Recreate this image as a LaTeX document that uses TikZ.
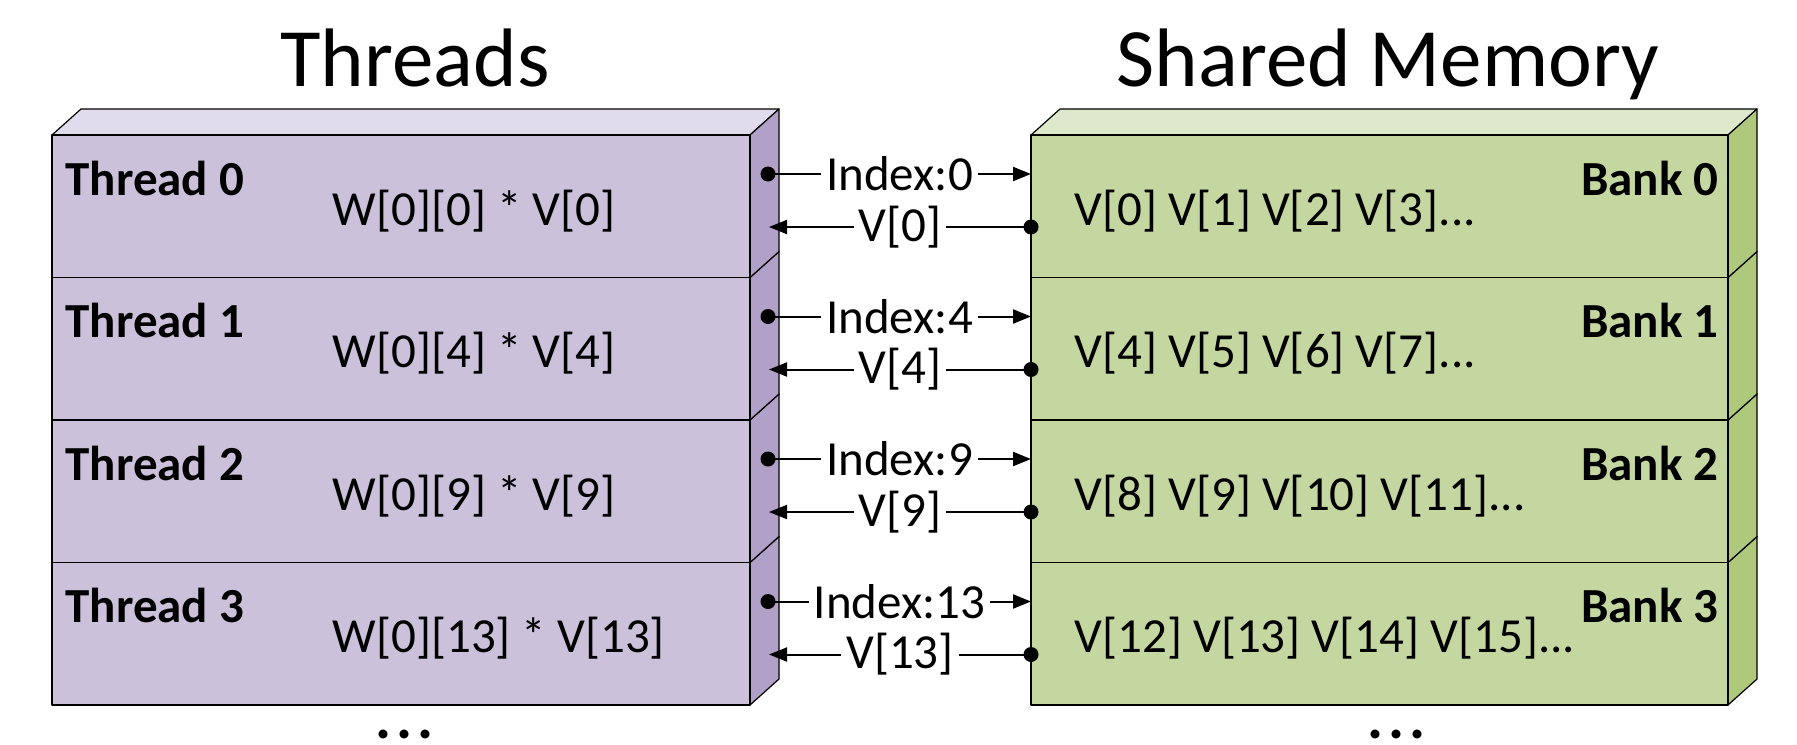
\documentclass[tikz,border=0pt]{standalone}
\usepackage{fontspec}
\setmainfont{Carlito}
\usepackage{xcolor}
\usetikzlibrary{arrows.meta,calc}

\definecolor{thrfront}{HTML}{CCC1DA}
\definecolor{thrtop}{HTML}{E1DCEC}
\definecolor{thrside}{HTML}{B1A0C7}
\definecolor{memfront}{HTML}{C4D7A0}
\definecolor{memtop}{HTML}{DEE8CB}
\definecolor{memside}{HTML}{AEC87C}

\begin{document}
\begin{tikzpicture}[x=0.5pt,y=-0.5pt,>=Latex,line width=0.6pt]
\tikzstyle{face}=[draw=black,line join=round]
\tikzstyle{title}=[font=\fontsize{41.5}{50}\selectfont,inner sep=0pt]
\tikzstyle{lbl}=[font=\fontsize{24.5}{29}\selectfont\bfseries,inner sep=0pt]
\tikzstyle{txt}=[font=\fontsize{24.5}{29}\selectfont,inner sep=0pt]
\tikzstyle{tag}=[font=\fontsize{24.5}{29}\selectfont,fill=white,inner xsep=2.5pt,inner ysep=0pt]
\tikzstyle{wire}=[line width=1pt,-{Triangle[length=9pt,width=7pt]}]
\tikzstyle{more}=[font=\fontsize{30}{36}\selectfont\bfseries,inner sep=0pt]

\useasboundingbox (0,0) rectangle (1797,744);

\node[title,anchor=base] (thrtitle) at (415,86) {Threads};
\node[title,anchor=base] (memtitle) at (1388,86) {Shared Memory};

% one slab per row, bottom row first so the upper slabs overlap it
\foreach \i/\work/\idx/\cells in {
  3/{W[0][13] * V[13]}/13/{V[12] V[13] V[14] V[15]...},
  2/{W[0][9] * V[9]}/9/{V[8] V[9] V[10] V[11]...},
  1/{W[0][4] * V[4]}/4/{V[4] V[5] V[6] V[7]...},
  0/{W[0][0] * V[0]}/0/{V[0] V[1] V[2] V[3]...}} {
  \pgfmathsetmacro\ya{135+142.5*\i}
  \pgfmathsetmacro\yb{\ya+142.5}
  % thread slab
  \filldraw[face,fill=thrtop] (52,\ya) -- (81,\ya-26) -- (779,\ya-26) -- (750,\ya) -- cycle;
  \filldraw[face,fill=thrside] (750,\ya) -- (779,\ya-26) -- (779,\yb-26) -- (750,\yb) -- cycle;
  \filldraw[face,fill=thrfront] (52,\ya) rectangle (750,\yb);
  \node[lbl,anchor=base west] (thr\i) at (65,\ya+60) {Thread \i};
  \node[txt,anchor=base west] (work\i) at (332,\ya+90) {\work};
  % memory bank slab
  \filldraw[face,fill=memtop] (1031,\ya) -- (1060,\ya-26) -- (1757,\ya-26) -- (1728,\ya) -- cycle;
  \filldraw[face,fill=memside] (1728,\ya) -- (1757,\ya-26) -- (1757,\yb-26) -- (1728,\yb) -- cycle;
  \filldraw[face,fill=memfront] (1031,\ya) rectangle (1728,\yb);
  \node[lbl,anchor=base east] (bank\i) at (1719,\ya+60) {Bank \i};
  \node[txt,anchor=base west] (cell\i) at (1074,\ya+90) {\cells};
  % request and reply
  \coordinate (tout\i) at (768,\ya+39);
  \coordinate (min\i) at (1031,\ya+39);
  \coordinate (mout\i) at (1031,\ya+92);
  \coordinate (tin\i) at (769,\ya+92);
  \draw[wire] (tout\i) -- node[tag] (req\i) {Index:\idx} (min\i);
  \draw[wire] (mout\i) -- node[tag] (rep\i) {V[\idx]} (tin\i);
  \fill (tout\i) circle[radius=7.5];
  \fill (mout\i) circle[radius=7.5];
}

\node[more,anchor=base] (thrmore) at (405,738) {.\kern2.5pt.\kern2.5pt.};
\node[more,anchor=base] (memmore) at (1397,738) {.\kern2.5pt.\kern2.5pt.};
\end{tikzpicture}
\end{document}
